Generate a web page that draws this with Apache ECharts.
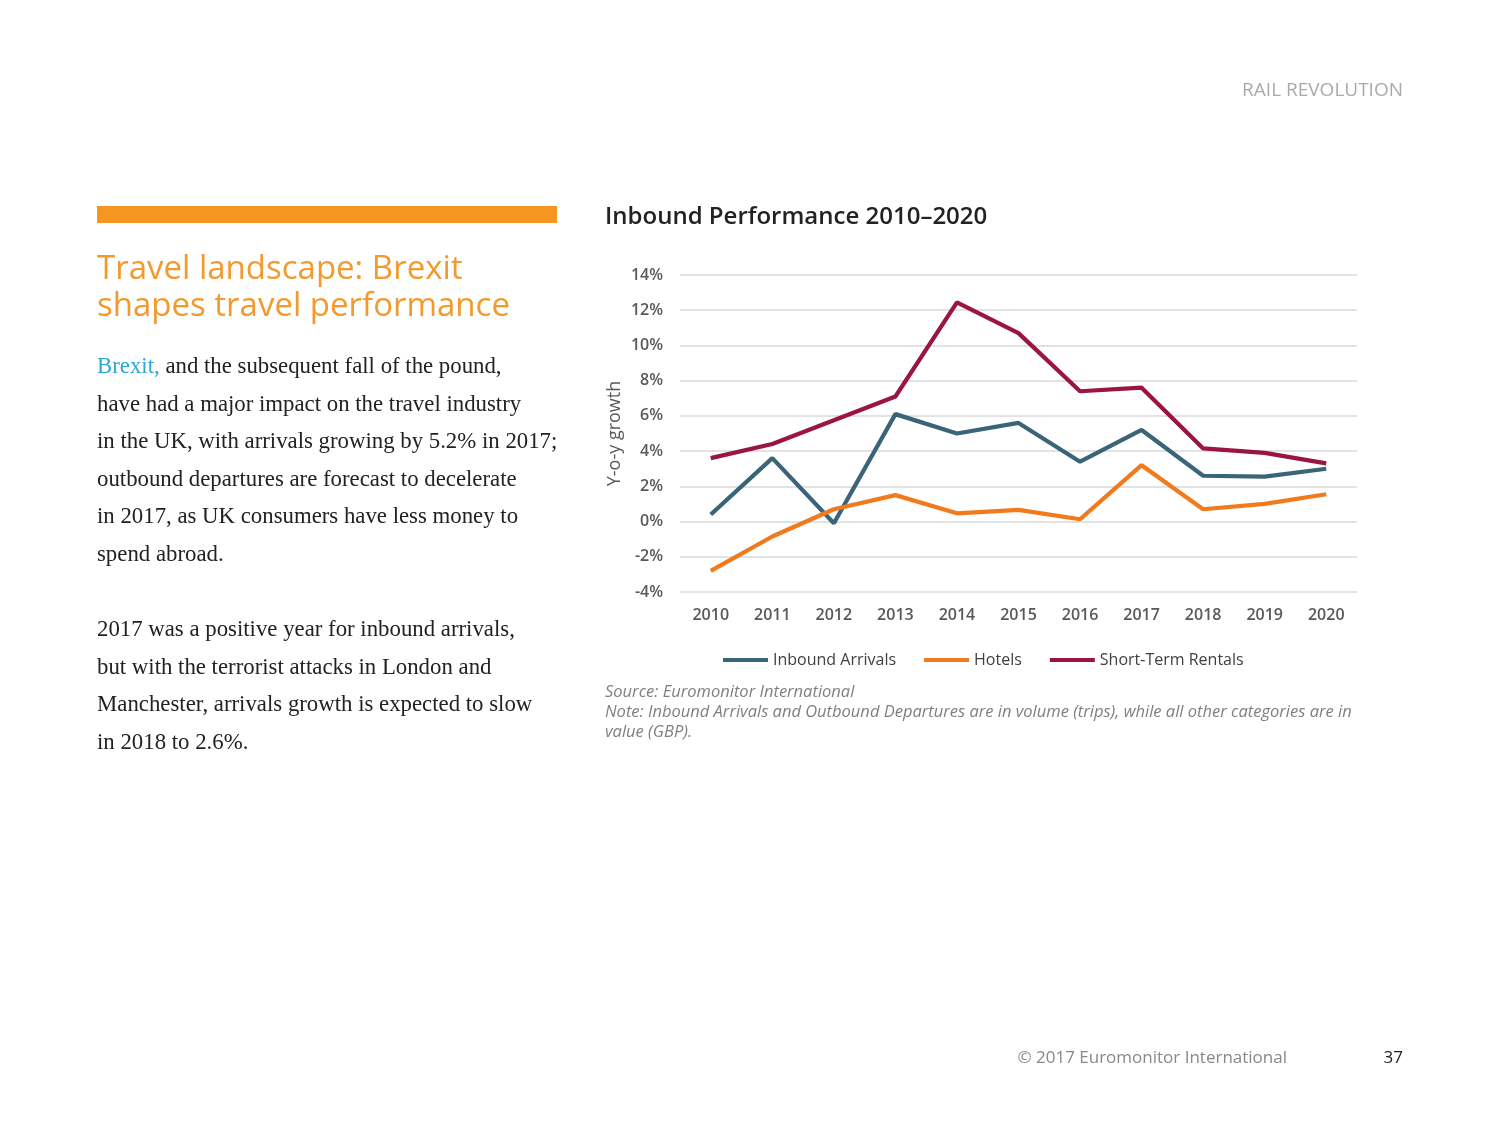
<!DOCTYPE html>
<html>
<head>
<meta charset="utf-8">
<script src="https://cdn.jsdelivr.net/npm/echarts@6/dist/echarts.min.js"></script>
<style>
html,body{margin:0;padding:0;background:#fff;}
#c{width:1500px;height:1125px;}
</style>
</head>
<body>
<div id="c"></div>
<script>
const years = ['2010','2011','2012','2013','2014','2015','2016','2017','2018','2019','2020'];
const inboundArrivals = [0.4, 3.6, -0.1, 6.1, 5.0, 5.6, 3.4, 5.2, 2.6, 2.55, 3.0];
const hotels = [-2.8, -0.85, 0.7, 1.5, 0.47, 0.66, 0.13, 3.2, 0.7, 1.0, 1.55];
const shortTermRentals = [3.6, 4.4, 5.75, 7.1, 12.45, 10.7, 7.4, 7.6, 4.15, 3.9, 3.3];
const yTicks = {min: -4, max: 14, interval: 2};

const bodyLines1 = [
  '{b|Brexit,} and the subsequent fall of the pound,',
  'have had a major impact on the travel industry',
  'in the UK, with arrivals growing by 5.2% in 2017;',
  'outbound departures are forecast to decelerate',
  'in 2017, as UK consumers have less money to',
  'spend abroad.'
];
const bodyLines2 = [
  '2017 was a positive year for inbound arrivals,',
  'but with the terrorist attacks in London and',
  'Manchester, arrivals growth is expected to slow',
  'in 2018 to 2.6%.'
];

const chart = echarts.init(document.getElementById('c'));
const serif = "'Liberation Serif', 'DejaVu Serif', serif";
const sans = "'Open Sans', Lato, sans-serif";
const axisFont = "'Open Sans', 'Noto Sans', sans-serif";

const graphics = [
  {type:'rect', shape:{x:97,y:206,width:460,height:17}, style:{fill:'#F4961F'}},
  {type:'text', x:97, y:270, style:{text:'Travel landscape: Brexit', font:"33px " + sans, fill:'#F29A2E', textVerticalAlign:'middle'}},
  {type:'text', x:97, y:307, style:{text:'shapes travel performance', font:"33px " + sans, fill:'#F29A2E', textVerticalAlign:'middle'}},
  {type:'text', x:1403, y:91, style:{text:'RAIL REVOLUTION', font:"19px " + sans, fill:'#AAAAAA', textAlign:'right', textVerticalAlign:'middle'}},
  {type:'text', x:1287, y:1058, style:{text:'© 2017 Euromonitor International', font:"17px " + sans, fill:'#888888', textAlign:'right', textVerticalAlign:'middle'}},
  {type:'text', x:1403, y:1058, style:{text:'37', font:"17px " + sans, fill:'#222222', textAlign:'right', textVerticalAlign:'middle'}},
  {type:'text', x:605, y:217, style:{text:'Inbound Performance 2010–2020', font:"600 24px " + sans, fill:'#222222', textVerticalAlign:'middle'}},
  {type:'text', x:605, y:692, style:{text:'Source: Euromonitor International', font:"italic 16.5px " + sans, fill:'#7F7F7F', textVerticalAlign:'middle'}},
  {type:'text', x:605, y:712, style:{text:'Note: Inbound Arrivals and Outbound Departures are in volume (trips), while all other categories are in', font:"italic 16.5px " + sans, fill:'#7F7F7F', textVerticalAlign:'middle'}},
  {type:'text', x:605, y:732, style:{text:'value (GBP).', font:"italic 16.5px " + sans, fill:'#7F7F7F', textVerticalAlign:'middle'}}
];
bodyLines1.forEach((t,i)=>{
  graphics.push({type:'text', x:97, y:367 + i*37.6, style:{text:t, font:"22.8px " + serif, fill:'#222222', textVerticalAlign:'middle', rich:{b:{fill:'#2AA7D6', font:"22.8px " + serif}}}});
});
bodyLines2.forEach((t,i)=>{
  graphics.push({type:'text', x:97, y:630 + i*37.6, style:{text:t, font:"22.8px " + serif, fill:'#222222', textVerticalAlign:'middle'}});
});

function mkSeries(name, data, color){
  return {name:name, type:'line', data:data, symbol:'none', smooth:false,
    lineStyle:{width:4.2, color:color}, itemStyle:{color:color}};
}

chart.setOption({
  animation:false,
  graphic: graphics,
  grid:{left:680, right:143, top:275, bottom:533},
  legend:{
    left:718, top:647, icon:'rect', itemWidth:45, itemHeight:4, itemGap:28,
    textStyle:{fontFamily:axisFont, fontSize:16, color:'#404040'},
    data:['Inbound Arrivals','Hotels','Short-Term Rentals']
  },
  xAxis:{
    type:'category', data:years, boundaryGap:true,
    axisLine:{show:false}, axisTick:{show:false},
    axisLabel:{fontFamily:axisFont, fontSize:16, fontWeight:600, color:'#595959', margin:15}
  },
  yAxis:{
    type:'value', min:yTicks.min, max:yTicks.max, interval:yTicks.interval,
    name:'Y-o-y growth', nameLocation:'middle', nameGap:56,
    nameTextStyle:{fontFamily:axisFont, fontSize:18, color:'#595959'},
    axisLine:{show:false}, axisTick:{show:false},
    axisLabel:{formatter:'{value}%', fontFamily:axisFont, fontSize:16, fontWeight:600, color:'#595959', margin:17},
    splitLine:{lineStyle:{color:'#D9D9D9', width:1.5}}
  },
  series:[
    mkSeries('Inbound Arrivals', inboundArrivals, '#3A6478'),
    mkSeries('Hotels', hotels, '#F07A1C'),
    mkSeries('Short-Term Rentals', shortTermRentals, '#9A1444')
  ]
});
</script>
</body>
</html>
